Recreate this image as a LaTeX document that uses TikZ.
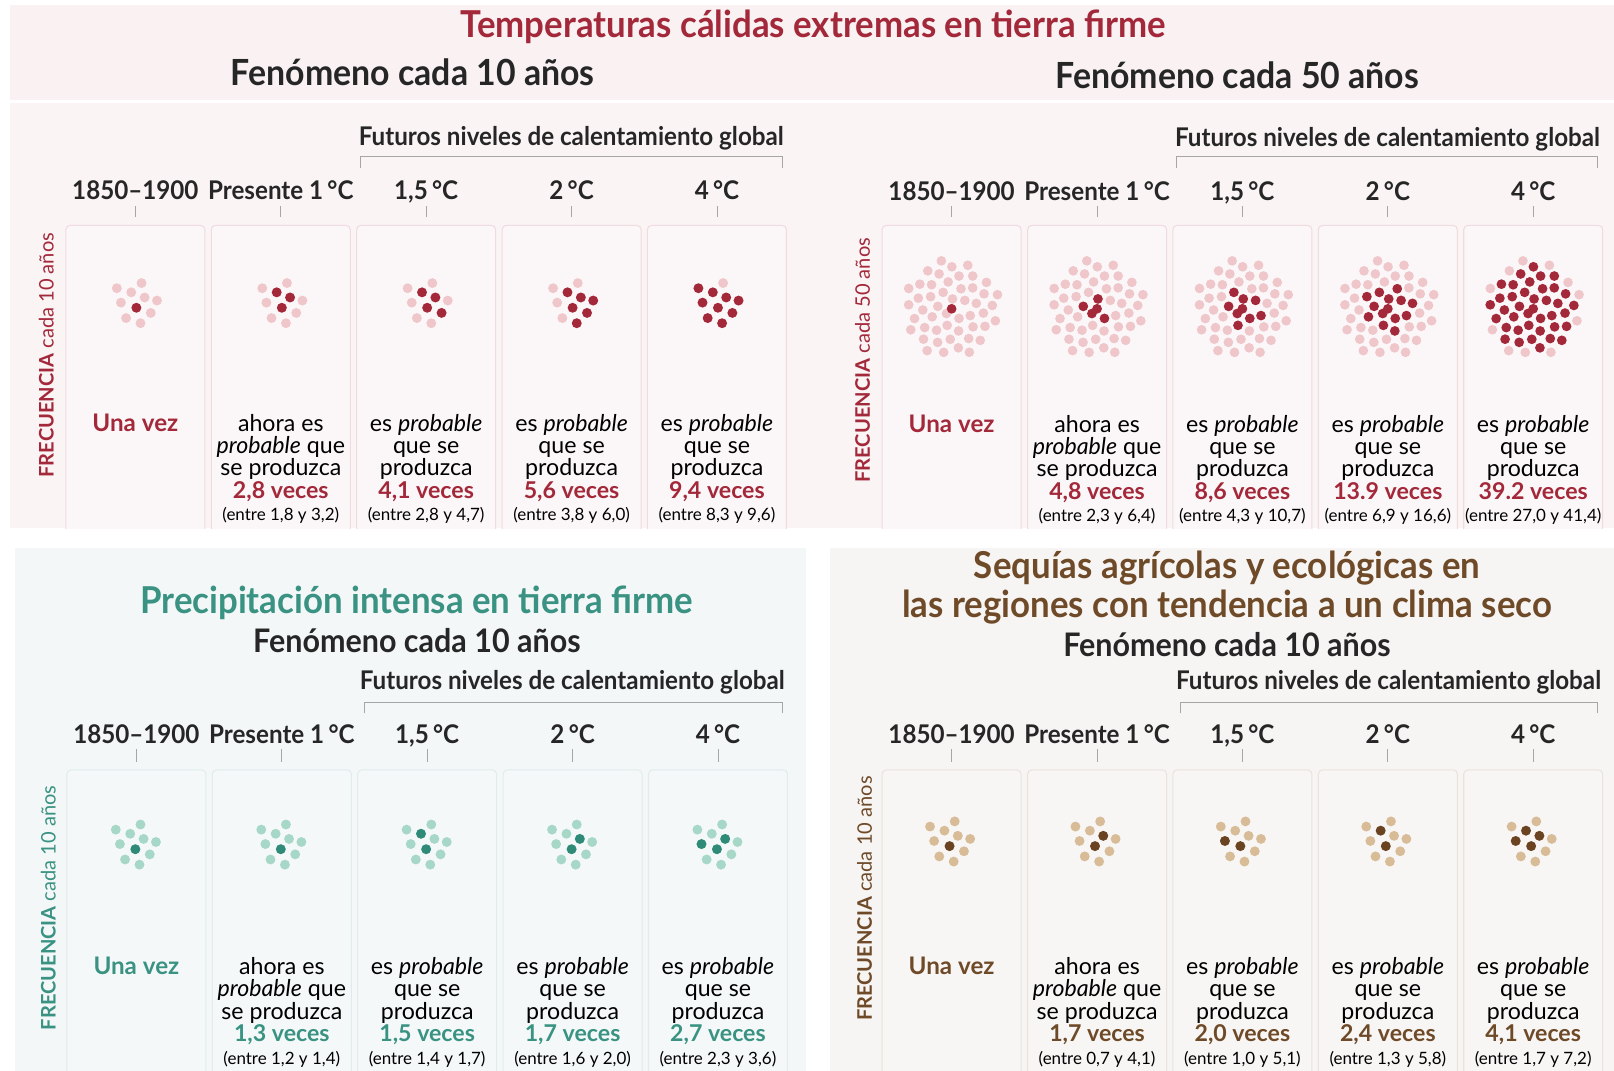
\documentclass[tikz,border=0pt]{standalone}
\usepackage{fontspec}
\setmainfont{Lato}
\newfontfamily\headfont[FakeStretch=0.94]{Lato}
\usetikzlibrary{positioning}

\definecolor{ink}{HTML}{262626}
\definecolor{tickgray}{HTML}{A6A6A6}
\definecolor{heatred}{HTML}{A3283A}
\definecolor{heatpink}{HTML}{EFC6CA}
\definecolor{heatband}{HTML}{F9F1F2}
\definecolor{heatbg}{HTML}{FAF4F5}
\definecolor{heatbox}{HTML}{FBF7F8}
\definecolor{heatline}{HTML}{F0DBDE}
\definecolor{rainteal}{HTML}{3A9382}
\definecolor{raindark}{HTML}{2F8A78}
\definecolor{rainlight}{HTML}{A6D7C7}
\definecolor{rainbg}{HTML}{F3F7F8}
\definecolor{rainbox}{HTML}{F4F8F9}
\definecolor{rainline}{HTML}{E0ECEB}
\definecolor{drybrown}{HTML}{6F4A28}
\definecolor{drydark}{HTML}{6A4322}
\definecolor{drylight}{HTML}{D8BC97}
\definecolor{drybg}{HTML}{F6F5F3}
\definecolor{drybox}{HTML}{F7F6F4}
\definecolor{dryline}{HTML}{EAE3DC}

\begin{document}
\begin{tikzpicture}[
    x=1pt, y=-1pt,
    title/.style={font=\headfont\bfseries\fontsize{36}{38}\selectfont, inner sep=0pt},
    subtitle/.style={font=\headfont\bfseries\fontsize{35}{37}\selectfont, text=ink, inner sep=0pt},
    subsmall/.style={font=\headfont\bfseries\fontsize{31.5}{33}\selectfont, text=ink, inner sep=0pt},
    futlabel/.style={font=\headfont\bfseries\fontsize{25}{27}\selectfont, text=ink, inner sep=0pt},
    collabel/.style={font=\headfont\bfseries\fontsize{25}{27}\selectfont, text=ink, anchor=base, inner sep=0pt},
    body/.style={font=\fontsize{22.5}{21.75}\selectfont, text=black, align=center, anchor=north, inner sep=0pt},
    once/.style={font=\bfseries\fontsize{23.5}{23.5}\selectfont, anchor=north, inner sep=0pt},
    freq/.style={font=\fontsize{19.5}{21}\selectfont, rotate=90, inner sep=0pt},
    colbox/.style={rounded corners=4pt, line width=1pt},
    tickline/.style={draw=tickgray, line width=0.8pt}
]
\useasboundingbox (0,0) rectangle (1568,1040);

% Panels
\fill[heatband] (10,5) rectangle (1568,97);
\fill[heatbg] (10,100) rectangle (1568,513);
\fill[rainbg] (15,532) rectangle (783,1040);
\fill[drybg] (806,532) rectangle (1568,1040);

% Titles
\node[title, text=heatred] (heattitle) at (790,26) {Temperaturas cálidas extremas en tierra firme};
\node[subtitle] (heatten) at (401,70) {Fenómeno cada 10 años};
\node[subtitle] (heatfifty) at (1202,73) {Fenómeno cada 50 años};
\node[title, text=rainteal] (raintitle) at (405,586) {Precipitación intensa en tierra firme};
\node[subsmall] (rainten) at (405,622) {Fenómeno cada 10 años};
\node[title, text=drybrown] (drytitle) at (1192,552) {Sequías agrícolas y ecológicas en};
\node[title, text=drybrown] (drytitletwo) at (1192,590) {las regiones con tendencia a un clima seco};
\node[subsmall] (dryten) at (1192,626) {Fenómeno cada 10 años};

% Heat, every 10 years
\node[futlabel] (heatfutA) at (555,134) {Futuros niveles de calentamiento global};
\draw[tickline] (350,163) -- (350,152) -- (760,152) -- (760,163);
\node[freq, text=heatred] (heatfreqA) at (45,345) {\textbf{FRECUENCIA} cada 10 años};
\begin{scope}
  \clip (10,100) rectangle (1568,513);
  \foreach \i/\cx/\lab/\dk in {1/131.5/1850–1900/{7}, 2/272.8/Presente 1\,°C/{2,5,7},
      3/414/{1,5\,°C}/{2,5,7,8}, 4/555.3/2\,°C/{2,5,6,7,8,10}, 5/696.5/4\,°C/{1,2,4,5,6,7,8,9,10}} {
    \node[collabel] (heatlabA\i) at (\cx,194) {\lab};
    \draw[tickline] (\cx,200) -- (\cx,211);
    \draw[colbox, draw=heatline, fill=heatbox] (\cx-67.5,219) rectangle (\cx+67.5,540);
    \foreach \j/\dx/\dy in {1/-19/-19, 2/-5/-15, 3/5/-24, 4/-15/-5, 5/8/-10,
        6/20/-7, 7/0/0, 8/14/5, 9/-10/10, 10/4/15} {
      \coordinate (p\j) at (\cx+1+\dx,299+\dy);
      \fill[heatpink] (p\j) circle (4.8);
    }
    \foreach \d in \dk {\fill[heatred] (p\d) circle (4.8);}
  }
\end{scope}
\node[once, text=heatred] (heatonceA) at (131.5,402) {Una vez};
\node[body] (heatnowA) at (272.8,402) {ahora es\\\textit{probable} que\\se produzca\\{\bfseries\color{heatred}2,8 veces}\\{\fontsize{16.5}{16.5}\selectfont(entre 1,8 y 3,2)}};
\foreach \i/\cx/\val/\rng in {3/414/{4,1}/{2,8 y 4,7}, 4/555.3/{5,6}/{3,8 y 6,0}, 5/696.5/{9,4}/{8,3 y 9,6}} {
  \node[body] (heatprobA\i) at (\cx,402) {es \textit{probable}\\que se\\produzca\\{\bfseries\color{heatred}\val\ veces}\\{\fontsize{16.5}{16.5}\selectfont(entre \rng)}};
}

% Heat, every 50 years
\node[futlabel] (heatfutB) at (1348,135) {Futuros niveles de calentamiento global};
\draw[tickline] (1143,163) -- (1143,152) -- (1552,152) -- (1552,163);
\node[freq, text=heatred] (heatfreqB) at (838,350) {\textbf{FRECUENCIA} cada 50 años};
\begin{scope}
  \clip (10,100) rectangle (1568,513);
  \foreach \i/\cx/\lab/\last in {1/924.5/1850–1900/0, 2/1065.8/Presente 1\,°C/4,
      3/1207/{1,5\,°C}/8, 4/1348.3/2\,°C/13, 5/1489.5/4\,°C/38} {
    \node[collabel] (heatlabB\i) at (\cx,195) {\lab};
    \draw[tickline] (\cx,200) -- (\cx,211);
    \draw[colbox, draw=heatline, fill=heatbox] (\cx-67.5,219) rectangle (\cx+67.5,540);
    \foreach \n in {0,...,49}
      \fill[heatpink, shift={(\cx,300)}] ({\n*137.508}:{6.8*sqrt(\n)}) circle (4.7);
    \foreach \n in {0,...,\last}
      \fill[heatred, shift={(\cx,300)}] ({\n*137.508}:{6.8*sqrt(\n)}) circle (4.7);
  }
\end{scope}
\node[once, text=heatred] (heatonceB) at (924.5,403) {Una vez};
\node[body] (heatnowB) at (1065.8,403) {ahora es\\\textit{probable} que\\se produzca\\{\bfseries\color{heatred}4,8 veces}\\{\fontsize{16.5}{16.5}\selectfont(entre 2,3 y 6,4)}};
\foreach \i/\cx/\val/\rng in {3/1207/{8,6}/{4,3 y 10,7}, 4/1348.3/{13.9}/{6,9 y 16,6}, 5/1489.5/{39.2}/{27,0 y 41,4}} {
  \node[body] (heatprobB\i) at (\cx,403) {es \textit{probable}\\que se\\produzca\\{\bfseries\color{heatred}\val\ veces}\\{\fontsize{16.5}{16.5}\selectfont(entre \rng)}};
}

% Heavy rain, every 10 years
\node[futlabel] (rainfut) at (556,663) {Futuros niveles de calentamiento global};
\draw[tickline] (354,693) -- (354,682) -- (760,682) -- (760,693);
\node[freq, text=rainteal] (rainfreq) at (47,882) {\textbf{FRECUENCIA} cada 10 años};
\begin{scope}
  \clip (15,532) rectangle (783,1040);
  \foreach \i/\cx/\lab/\dk in {1/132.5/1850–1900/{7}, 2/273.8/Presente 1\,°C/{7},
      3/415/{1,5\,°C}/{2,7}, 4/556.3/2\,°C/{5,7}, 5/697.5/4\,°C/{4,5,7}} {
    \node[collabel] (rainlab\i) at (\cx,722) {\lab};
    \draw[tickline] (\cx,728) -- (\cx,740);
    \draw[colbox, draw=rainline, fill=rainbox] (\cx-67.5,748) rectangle (\cx+67.5,1060);
    \foreach \j/\dx/\dy in {1/-19/-19, 2/-5/-15, 3/5/-24, 4/-15/-5, 5/8/-10,
        6/20/-7, 7/0/0, 8/14/5, 9/-10/10, 10/4/15} {
      \coordinate (p\j) at (\cx-1+\dx,825+\dy);
      \fill[rainlight] (p\j) circle (4.8);
    }
    \foreach \d in \dk {\fill[raindark] (p\d) circle (4.8);}
  }
\end{scope}
\node[once, text=rainteal] (rainonce) at (132.5,930) {Una vez};
\node[body] (rainnow) at (273.8,930) {ahora es\\\textit{probable} que\\se produzca\\{\bfseries\color{rainteal}1,3 veces}\\{\fontsize{16.5}{16.5}\selectfont(entre 1,2 y 1,4)}};
\foreach \i/\cx/\val/\rng in {3/415/{1,5}/{1,4 y 1,7}, 4/556.3/{1,7}/{1,6 y 2,0}, 5/697.5/{2,7}/{2,3 y 3,6}} {
  \node[body] (rainprob\i) at (\cx,930) {es \textit{probable}\\que se\\produzca\\{\bfseries\color{rainteal}\val\ veces}\\{\fontsize{16.5}{16.5}\selectfont(entre \rng)}};
}

% Drought, every 10 years
\node[futlabel] (dryfut) at (1349,663) {Futuros niveles de calentamiento global};
\draw[tickline] (1147,693) -- (1147,682) -- (1552,682) -- (1552,693);
\node[freq, text=drybrown] (dryfreq) at (840,873) {\textbf{FRECUENCIA} cada 10 años};
\begin{scope}
  \clip (806,532) rectangle (1568,1040);
  \foreach \i/\cx/\lab/\dk in {1/924.5/1850–1900/{7}, 2/1065.8/Presente 1\,°C/{5,7},
      3/1207/{1,5\,°C}/{4,7}, 4/1348.3/2\,°C/{2,7}, 5/1489.5/4\,°C/{2,4,5,7}} {
    \node[collabel] (drylab\i) at (\cx,722) {\lab};
    \draw[tickline] (\cx,728) -- (\cx,740);
    \draw[colbox, draw=dryline, fill=drybox] (\cx-67.5,748) rectangle (\cx+67.5,1060);
    \foreach \j/\dx/\dy in {1/-19/-19, 2/-5/-15, 3/5/-24, 4/-15/-5, 5/8/-10,
        6/20/-7, 7/0/0, 8/14/5, 9/-10/10, 10/4/15} {
      \coordinate (p\j) at (\cx-2+\dx,822+\dy);
      \fill[drylight] (p\j) circle (4.8);
    }
    \foreach \d in \dk {\fill[drydark] (p\d) circle (4.8);}
  }
\end{scope}
\node[once, text=drybrown] (dryonce) at (924.5,930) {Una vez};
\node[body] (drynow) at (1065.8,930) {ahora es\\\textit{probable} que\\se produzca\\{\bfseries\color{drybrown}1,7 veces}\\{\fontsize{16.5}{16.5}\selectfont(entre 0,7 y 4,1)}};
\foreach \i/\cx/\val/\rng in {3/1207/{2,0}/{1,0 y 5,1}, 4/1348.3/{2,4}/{1,3 y 5,8}, 5/1489.5/{4,1}/{1,7 y 7,2}} {
  \node[body] (dryprob\i) at (\cx,930) {es \textit{probable}\\que se\\produzca\\{\bfseries\color{drybrown}\val\ veces}\\{\fontsize{16.5}{16.5}\selectfont(entre \rng)}};
}
\end{tikzpicture}
\end{document}
